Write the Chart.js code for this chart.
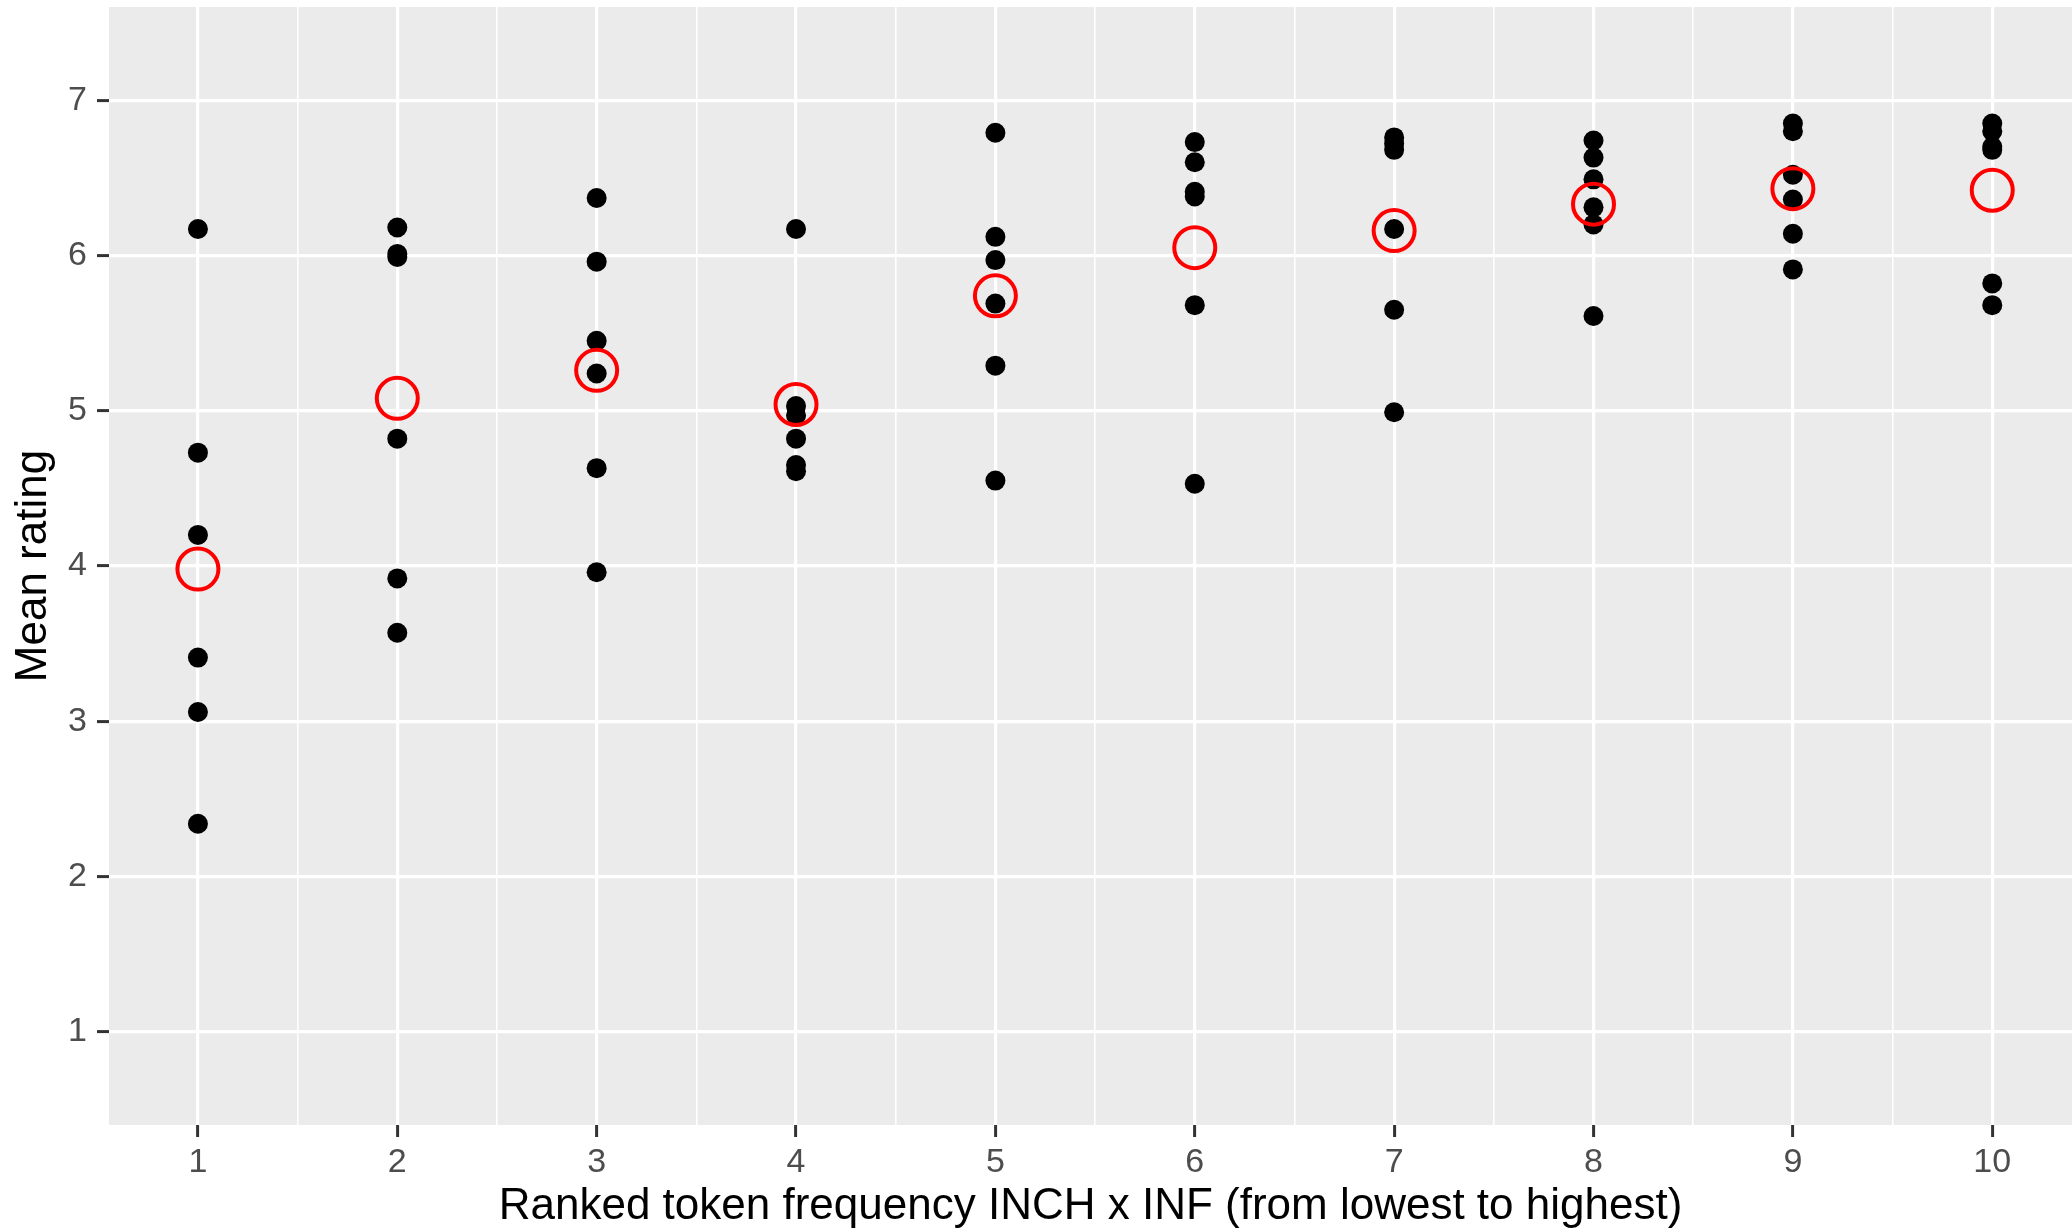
<!DOCTYPE html>
<html>
<head>
<meta charset="utf-8">
<script src="https://cdn.jsdelivr.net/npm/chart.js@4.4.1/dist/chart.umd.min.js"></script>
<style>
  html, body { margin: 0; padding: 0; background: #ffffff; }
  #rating-chart { display: block; }
</style>
</head>
<body>
<canvas id="rating-chart" width="2072" height="1232"></canvas>
<script>
// ranks 1..10 (token frequency INCH x INF, lowest to highest)
const ranks = [1, 2, 3, 4, 5, 6, 7, 8, 9, 10];

// mean rating of each item, one list per rank
const ratings = [
  [6.17, 4.73, 4.20, 3.41, 3.06, 2.34],
  [6.18, 6.01, 5.99, 4.82, 3.92, 3.57],
  [6.37, 5.96, 5.45, 5.24, 4.63, 3.96],
  [6.17, 5.03, 4.97, 4.82, 4.65, 4.61],
  [6.79, 6.12, 5.97, 5.69, 5.29, 4.55],
  [6.73, 6.60, 6.41, 6.38, 5.68, 4.53],
  [6.76, 6.72, 6.68, 6.17, 5.65, 4.99],
  [6.74, 6.63, 6.49, 6.31, 6.20, 5.61],
  [6.85, 6.80, 6.52, 6.36, 6.14, 5.91],
  [6.85, 6.80, 6.70, 6.68, 5.82, 5.68]
];

// red circles: mean per rank
const rankMeans = [3.98, 5.08, 5.26, 5.04, 5.74, 6.05, 6.16, 6.33, 6.43, 6.42];

const yTicks = [1, 2, 3, 4, 5, 6, 7];

const itemPoints = [];
ranks.forEach((r, i) => {
  ratings[i].forEach(v => itemPoints.push({ x: r, y: v }));
});
const meanPoints = ranks.map((r, i) => ({ x: r, y: rankMeans[i] }));

const panelBg = {
  id: 'panelBg',
  beforeDraw(chart) {
    const { ctx, chartArea: a } = chart;
    ctx.save();
    ctx.fillStyle = '#ebebeb';
    ctx.fillRect(a.left, a.top, a.right - a.left, a.bottom - a.top);
    ctx.restore();
  }
};

const isMajor = v => Math.abs(v - Math.round(v)) < 1e-6;

new Chart(document.getElementById('rating-chart'), {
  type: 'scatter',
  data: {
    datasets: [
      {
        label: 'mean',
        data: meanPoints,
        order: 0,
        pointStyle: 'circle',
        pointRadius: 20.5,
        backgroundColor: 'rgba(0,0,0,0)',
        borderColor: '#ff0000',
        borderWidth: 4
      },
      {
        label: 'items',
        data: itemPoints,
        order: 1,
        pointRadius: 10,
        backgroundColor: '#000000',
        borderWidth: 0
      }
    ]
  },
  options: {
    responsive: false,
    animation: false,
    devicePixelRatio: 1,
    layout: { autoPadding: false, padding: { top: 7, right: 0, bottom: 0, left: 0 } },
    plugins: {
      legend: { display: false },
      tooltip: { enabled: false }
    },
    scales: {
      x: {
        type: 'linear',
        min: 0.554,
        max: 10.40,
        afterFit: s => {
          s.height = 107;
          s.paddingLeft = 0;
          s.paddingRight = 0;
        },
        border: { display: false },
        grid: {
          color: '#ffffff',
          lineWidth: c => (isMajor(c.tick.value) ? 3.2 : 1.6),
          tickColor: c => (isMajor(c.tick.value) ? '#333333' : 'rgba(0,0,0,0)'),
          tickWidth: 3,
          tickLength: 12
        },
        ticks: {
          stepSize: 0.5,
          includeBounds: false,
          autoSkip: false,
          maxRotation: 0,
          padding: 5,
          color: '#4d4d4d',
          font: { family: 'Liberation Sans', size: 34 },
          callback: v => (ranks.includes(v) ? String(v) : '')
        },
        title: {
          display: true,
          text: 'Ranked token frequency INCH x INF (from lowest to highest)',
          color: '#000000',
          font: { family: 'Liberation Sans', size: 44, lineHeight: 1 },
          padding: { top: 0, bottom: 3 }
        }
      },
      y: {
        type: 'linear',
        min: 0.40,
        max: 7.60,
        afterFit: s => {
          s.width = 109;
          s.paddingTop = 0;
          s.paddingBottom = 0;
        },
        afterBuildTicks: s => { s.ticks = yTicks.map(v => ({ value: v })); },
        border: { display: false },
        grid: {
          color: '#ffffff',
          lineWidth: 3.2,
          tickColor: '#333333',
          tickWidth: 3,
          tickLength: 12
        },
        ticks: {
          padding: 10,
          color: '#4d4d4d',
          font: { family: 'Liberation Sans', size: 34 }
        },
        title: {
          display: true,
          text: 'Mean rating',
          color: '#000000',
          font: { family: 'Liberation Sans', size: 44, lineHeight: 1 },
          padding: { top: 12, bottom: 0 }
        }
      }
    }
  },
  plugins: [panelBg]
});
</script>
</body>
</html>
